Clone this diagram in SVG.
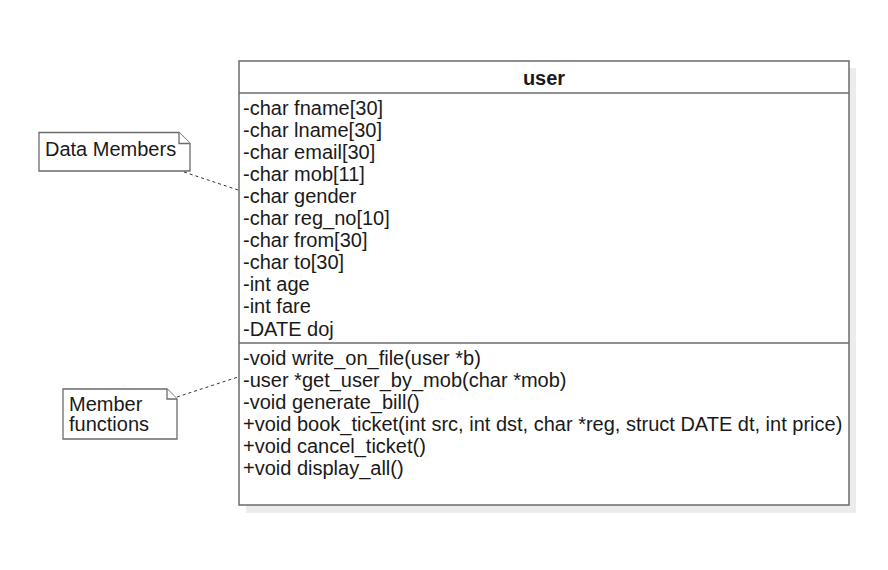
<svg xmlns="http://www.w3.org/2000/svg" width="888" height="570" viewBox="0 0 888 570">
<style>
.t{font-family:"Liberation Sans",Arial,sans-serif;font-size:20px;fill:#1a1a1a}
.b{font-weight:bold;text-anchor:middle}
.frame{fill:#fff;stroke:#6b6b6b;stroke-width:1.5}
.div{stroke:#6b6b6b;stroke-width:1.5}
.note{fill:#fff;stroke:#6b6b6b;stroke-width:1.3}
.conn{fill:none;stroke:#333;stroke-width:1;stroke-dasharray:3,3}
.sh{fill:#ececec}
</style>
<rect width="888" height="570" fill="#fff"/>
<g id="user">
<rect class="sh" x="246" y="68" width="610" height="445"/>
<rect class="frame" x="239" y="61" width="610" height="444"/>
<line class="div" x1="239" y1="93" x2="849" y2="93"/>
<line class="div" x1="239" y1="343" x2="849" y2="343"/>
<text class="t b" x="544" y="85">user</text>
<text class="t" x="243">
<tspan x="243" y="114.5">-char fname[30]</tspan>
<tspan x="243" y="136.5">-char lname[30]</tspan>
<tspan x="243" y="158.5">-char email[30]</tspan>
<tspan x="243" y="180.5">-char mob[11]</tspan>
<tspan x="243" y="202.5">-char gender</tspan>
<tspan x="243" y="225">-char reg_no[10]</tspan>
<tspan x="243" y="247">-char from[30]</tspan>
<tspan x="243" y="269">-char to[30]</tspan>
<tspan x="243" y="291">-int age</tspan>
<tspan x="243" y="313">-int fare</tspan>
<tspan x="243" y="335.5">-DATE doj</tspan>
</text>
<text class="t" x="243">
<tspan x="243" y="365">-void write_on_file(user *b)</tspan>
<tspan x="243" y="387">-user *get_user_by_mob(char *mob)</tspan>
<tspan x="243" y="409">-void generate_bill()</tspan>
<tspan x="243" y="431">+void book_ticket(int src, int dst, char *reg, struct DATE dt, int price)</tspan>
<tspan x="243" y="453">+void cancel_ticket()</tspan>
<tspan x="243" y="475">+void display_all()</tspan>
</text>
</g>
<g id="note-data">
<path class="note" d="M39,132.5 H179 L190,143.5 V171 H39 Z"/>
<path class="note" d="M179,132.5 V143.5 H190" fill="none"/>
<text class="t" x="45" y="156">Data Members</text>
</g>
<g id="note-func">
<path class="note" d="M63,389 H167 L177,399 V439 H63 Z"/>
<path class="note" d="M167,389 V399 H177" fill="none"/>
<text class="t" x="69" y="411">Member</text>
<text class="t" x="69" y="431">functions</text>
</g>
<g id="connectors">
<path class="conn" d="M184,172 L238,190"/>
<path class="conn" d="M177,397 L238,377"/>
</g>
</svg>
